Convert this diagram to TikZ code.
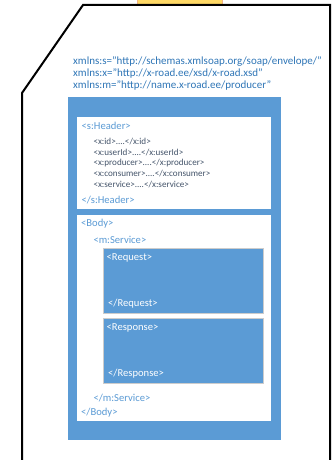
\documentclass[tikz,border=0pt]{standalone}
\usepackage{fontspec}
\setmainfont{Carlito}
\begin{document}
\begin{tikzpicture}[x=1pt,y=-1pt,
  ns/.style={anchor=west,inner sep=0pt,text=nsblue,font=\fontsize{11}{12}\selectfont},
  tag/.style={anchor=west,inner sep=0pt,text=tagblue,font=\fontsize{10.6}{12}\selectfont},
  sub/.style={anchor=west,inner sep=0pt,text=subgray,font=\fontsize{9.1}{10}\selectfont},
  wtag/.style={anchor=west,inner sep=0pt,text=white,font=\fontsize{10.6}{12}\selectfont},
  innerbox/.style={fill=boxblue,draw=lightgray!80,line width=0.8pt}]
\definecolor{boxblue}{HTML}{5B9BD5}
\definecolor{nsblue}{HTML}{2E75B6}
\definecolor{tagblue}{HTML}{5B9BD5}
\definecolor{subgray}{HTML}{44546A}
\definecolor{orangefill}{HTML}{FFD966}
\definecolor{orangeline}{HTML}{F4B183}
\useasboundingbox (0,0) rectangle (333,460);
% orange tab
\draw[fill=orangefill,draw=orangeline,line width=0.8pt] (137,-2) rectangle (222.5,4);
% envelope outline
\draw[line width=2pt,line join=miter] (22,462) -- (22,93) -- (83,5) -- (330,5) -- (330,462);
% outer blue
\fill[boxblue] (68,97) rectangle (281,440);
% header
\fill[white] (77,117) rectangle (271,209);
% body
\fill[white] (77,215) rectangle (271,421);
% request / response
\draw[innerbox] (103,248) rectangle (263,313);
\draw[innerbox] (103,318) rectangle (263,383);
% texts
\node[ns] (n1) at (73,62) {xmlns:s="http://schemas.xmlsoap.org/soap/envelope/"};
\node[ns] (n2) at (73,73.5) {xmlns:x="http://x-road.ee/xsd/x-road.xsd"};
\node[ns] (n3) at (73,85.5) {xmlns:m="http://name.x-road.ee/producer"};
\node[tag] (h1) at (81.5,126) {<s:Header>};
\node[sub] (s1) at (93.3,141.7) {<x:id>....</x:id>};
\node[sub] (s2) at (93.3,152.4) {<x:userId>....</x:userId>};
\node[sub] (s3) at (93.3,163.1) {<x:producer>....</x:producer>};
\node[sub] (s4) at (93.3,173.9) {<x:consumer>....</x:consumer>};
\node[sub] (s5) at (93.3,184.7) {<x:service>....</x:service>};
\node[tag] (h2) at (81.5,200) {</s:Header>};
\node[tag] (b1) at (81,224) {<Body>};
\node[tag] (m1) at (93.3,240) {<m:Service>};
\node[wtag] (r1) at (106.5,257.5) {<Request>};
\node[wtag] (r2) at (108,304) {</Request>};
\node[wtag] (p1) at (106.5,327.5) {<Response>};
\node[wtag] (p2) at (108,373.5) {</Response>};
\node[tag] (m2) at (93.3,397.7) {</m:Service>};
\node[tag] (b2) at (81,412.3) {</Body>};
\end{tikzpicture}
\end{document}
